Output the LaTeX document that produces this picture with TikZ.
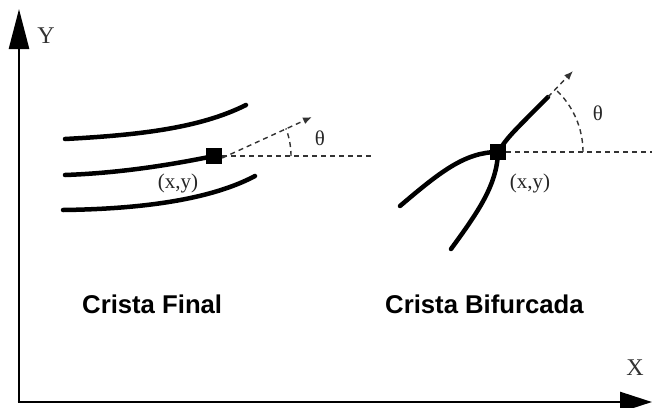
\documentclass[tikz,border=0pt]{standalone}
\usepackage{fontspec}
\setmainfont{Liberation Serif}
\newfontfamily\capfont{Liberation Sans}
\usetikzlibrary{arrows.meta}
\tikzset{
  ridge/.style={line width=4.5pt, line cap=round},
  axis/.style={line width=2.6pt, -{Triangle[length=#1, width=20pt]}},
  guide/.style={black!80, line width=1.4pt, dash pattern=on 5pt off 4pt},
  guidearrow/.style={guide, -{Latex[length=9pt, width=7pt]}},
  minutia/.style={fill=black, draw=none, minimum size=16pt, inner sep=0pt},
  lbl/.style={font=\fontsize{21}{21}\selectfont, text=black!85, inner sep=0pt},
  axlbl/.style={font=\fontsize{24}{24}\selectfont, text=black!80, inner sep=0pt},
  caption/.style={font=\capfont\bfseries\fontsize{25.7}{26}\selectfont, inner sep=0pt, anchor=base west}
}
\begin{document}
\begin{tikzpicture}[x=1pt, y=-1pt]
\useasboundingbox (0,0) rectangle (652,407);
% axes
\coordinate (o) at (19,402);
\coordinate (ytip) at (19,9);
\coordinate (xtip) at (652,402);
\draw[axis=40pt] (o) -- (ytip);
\draw[axis=32pt] ([xshift=-1.3pt]o) -- (xtip);
\node[axlbl] (ylab) at (46,36) {Y};
\node[axlbl] (xlab) at (635,368) {X};

% ---- Crista Final ----
\node[minutia] (sqL) at (214,156) {};
\draw[ridge] (65,139) .. controls (140,135) and (200,128) .. (246,105);
\draw[ridge] (65,175) .. controls (120,173) and (170,165) .. (sqL.center);
\draw[ridge] (63,210) .. controls (140,209) and (210,200) .. (255,176);
\node[minutia] at (sqL) {};
\coordinate (hL) at (375,156);
\coordinate (aL) at (312,117);
\draw[guide] (sqL.east) -- (hL);
\draw[guidearrow] ([yshift=-2pt]sqL.east) -- (aL);
\draw[guide] (291,156) arc[start angle=0, end angle=-21, radius=77];
\node[lbl] (thL) at (320,138) {θ};
\node[lbl] (xyL) at (178,183) {(x,y)};
\node[caption] (capL) at (82,313) {Crista Final};

% ---- Crista Bifurcada ----
\node[minutia] (sqR) at (498,152) {};
\coordinate (eR) at (548,97);
\draw[ridge] (400,206) .. controls (440,172) and (465,152) .. (sqR.center);
\draw[ridge] (451,249) .. controls (478,212) and (497,185) .. (sqR.center);
\draw[ridge] (sqR.center) .. controls (508,137) .. (eR);
\node[minutia] at (sqR) {};
\coordinate (hR) at (652,152);
\coordinate (aR) at (573,71);
\draw[guide] (sqR.east) -- (hR);
\draw[guidearrow] (eR) -- (aR);
\draw[guide] (583,152) arc[start angle=0, end angle=-48, radius=85];
\node[lbl] (thR) at (598,113) {θ};
\node[lbl] (xyR) at (530,183) {(x,y)};
\node[caption] (capR) at (385,313) {Crista Bifurcada};
\end{tikzpicture}
\end{document}
